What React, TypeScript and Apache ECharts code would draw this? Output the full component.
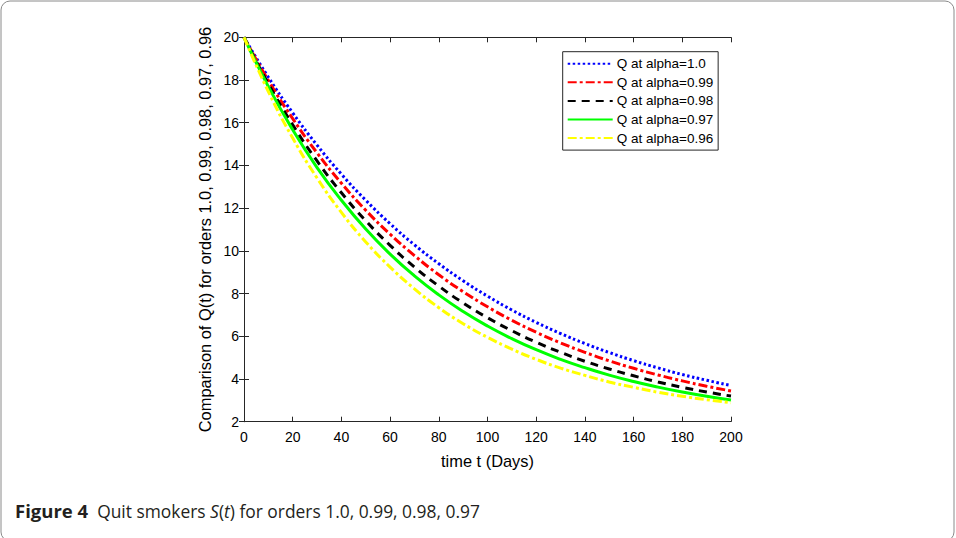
import React, { useEffect, useRef } from "react";
import * as echarts from "echarts";

const tValues = [0, 10, 20, 30, 40, 50, 60, 70, 80, 90, 100, 110, 120, 130, 140, 150, 160, 170, 180, 190, 200];
const qAlpha100 = [20.0, 18.13, 16.46, 14.95, 13.59, 12.37, 11.27, 10.28, 9.4, 8.6, 7.88, 7.23, 6.65, 6.13, 5.66, 5.24, 4.86, 4.52, 4.21, 3.94, 3.69];
const qAlpha099 = [20.0, 17.98, 16.19, 14.59, 13.17, 11.9, 10.78, 9.78, 8.88, 8.09, 7.38, 6.75, 6.19, 5.69, 5.25, 4.85, 4.5, 4.19, 3.91, 3.66, 3.44];
const qAlpha098 = [20.0, 17.82, 15.9, 14.21, 12.72, 11.41, 10.26, 9.24, 8.35, 7.56, 6.87, 6.26, 5.72, 5.25, 4.83, 4.47, 4.15, 3.86, 3.61, 3.39, 3.2];
const qAlpha097 = [20.0, 17.69, 15.67, 13.9, 12.37, 11.02, 9.85, 8.83, 7.94, 7.16, 6.48, 5.89, 5.37, 4.92, 4.53, 4.18, 3.88, 3.62, 3.39, 3.19, 3.02];
const qAlpha096 = [20.0, 17.46, 15.28, 13.41, 11.8, 10.42, 9.24, 8.22, 7.34, 6.59, 5.95, 5.4, 4.92, 4.51, 4.17, 3.86, 3.61, 3.38, 3.19, 3.03, 2.89];

const seriesNames = ["Q at alpha=1.0", "Q at alpha=0.99", "Q at alpha=0.98", "Q at alpha=0.97", "Q at alpha=0.96"];
const seriesValues = [qAlpha100, qAlpha099, qAlpha098, qAlpha097, qAlpha096];
const seriesColors = ["#0000ff", "#ff0000", "#000000", "#00ff00", "#ffff00"];
const seriesDash: (number[] | string)[] = [[2.5, 2.5], [9, 3, 3, 3], [8, 6], "solid", [9, 3, 3, 3]];

const yAxisTitle = "Comparison of Q(t) for orders 1.0, 0.99, 0.98, 0.97, 0.96";
const xAxisTitle = "time t (Days)";

const AX = "#262626";
const FONT = "'Liberation Sans', Arial, Helvetica, sans-serif";
const CAP_FONT = "'Open Sans', 'Noto Sans', sans-serif";

export default function App() {
  const ref = useRef<HTMLDivElement>(null);
  useEffect(() => {
    if (!ref.current) return;
    const chart = echarts.init(ref.current, null, { renderer: "svg" });
    const axisCommon = {
      axisLine: { show: true, lineStyle: { color: AX, width: 1 } },
      axisTick: { show: true, inside: true, length: 5, lineStyle: { color: AX } },
      splitLine: { show: false },
    };
    const xBase = { ...axisCommon, type: "value", min: 0, max: 200, interval: 20 };
    const yBase = { ...axisCommon, type: "value", min: 2, max: 20, interval: 2 };
    chart.setOption({
      animation: false,
      backgroundColor: "#ffffff",
      grid: { left: 244, right: 225, top: 37.3, bottom: 116.3, containLabel: false },
      xAxis: [
        {
          ...xBase,
          position: "bottom",
          name: xAxisTitle,
          nameLocation: "middle",
          nameGap: 31,
          nameTextStyle: { fontFamily: FONT, fontSize: 16.4, color: "#000" },
          axisLabel: { fontFamily: FONT, fontSize: 14, color: "#000", margin: 8 },
        },
        { ...xBase, position: "top", axisLabel: { show: false } },
      ],
      yAxis: [
        {
          ...yBase,
          position: "left",
          name: yAxisTitle,
          nameLocation: "middle",
          nameGap: 29,
          nameTextStyle: { fontFamily: FONT, fontSize: 16.4, color: "#000" },
          axisLabel: { fontFamily: FONT, fontSize: 14, color: "#000", margin: 5 },
        },
        { ...yBase, position: "right", axisLabel: { show: false } },
      ],
      legend: {
        orient: "vertical",
        left: 562.7,
        top: 51.7,
        padding: [5, 5, 5, 4],
        itemWidth: 45,
        itemHeight: 14,
        itemGap: 4.6,
        backgroundColor: "#ffffff",
        borderColor: AX,
        borderWidth: 1,
        borderRadius: 0,
        itemStyle: { opacity: 0 },
        textStyle: { fontFamily: FONT, fontSize: 13.5, color: "#000", padding: [0, 0, 0, -1] },
        data: seriesNames,
      },
      series: seriesNames.map((name, i) => ({
        name,
        type: "line",
        xAxisIndex: 0,
        yAxisIndex: 0,
        data: tValues.map((t, j) => [t, seriesValues[i][j]]),
        smooth: true,
        symbol: "none",
        showSymbol: false,
        lineStyle: { color: seriesColors[i], width: 3, type: seriesDash[i] as any, cap: "butt" },
        itemStyle: { color: seriesColors[i] },
        z: 2 + i,
      })),
      graphic: [
        {
          type: "rect",
          shape: { x: 1, y: 1, width: 953, height: 540, r: 9 },
          style: { fill: "none", stroke: "#8a8a8a", lineWidth: 1 },
          silent: true,
        },
        {
          type: "text",
          left: 15,
          top: 501,
          style: {
            text: "{b|Figure 4}  Quit smokers {i|S}({i|t}) for orders 1.0, 0.99, 0.98, 0.97",
            fontFamily: CAP_FONT,
            fontSize: 17.4,
            fill: "#231f20",
            rich: {
              b: { fontFamily: CAP_FONT, fontSize: 18.5, fontWeight: "bold", fill: "#231f20" },
              i: { fontFamily: CAP_FONT, fontSize: 17.4, fontStyle: "italic", fill: "#231f20" },
            },
          },
        },
      ],
    });
    return () => chart.dispose();
  }, []);
  return (
    <div
      ref={ref}
      style={{ position: "fixed", left: 0, top: 0, width: 956, height: 538 }}
    />
  );
}
